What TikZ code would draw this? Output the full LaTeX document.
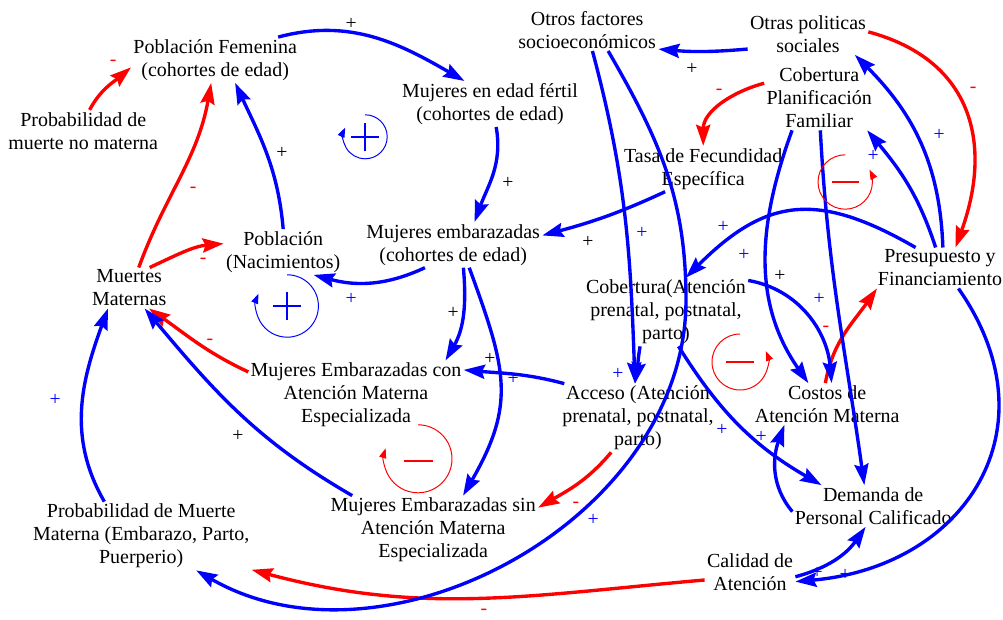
\documentclass[tikz,border=0pt]{standalone}
\usepackage{fontspec}
\setmainfont{Liberation Serif}
\usetikzlibrary{arrows.meta}
\newcommand\cldfont{\fontsize{14.2}{16.3}\selectfont}
\newcommand\signfont{\fontsize{14}{16}\selectfont}

\begin{document}
\begin{tikzpicture}[
  var/.style={align=center,inner sep=1.5pt,font=\cldfont},
  poslink/.style={blue,line width=2.4pt,-{Stealth[length=15pt,width=10pt,inset=2pt]}},
  neglink/.style={red,line width=2.4pt,-{Stealth[length=15pt,width=10pt,inset=2pt]}},
  signk/.style={font=\signfont,text=black,inner sep=0pt},
  signb/.style={font=\signfont,text=blue,inner sep=0pt},
  signr/.style={font=\signfont,text=red,inner sep=0pt},
  loopb/.style={blue,line width=0.7pt,-{Triangle[length=7pt,width=5pt]}},
  loopr/.style={red,line width=0.7pt,-{Triangle[length=7pt,width=5pt]}}]
\useasboundingbox (0,0) rectangle (25.075,15.5);

% variables
\node[var] (pf) at (5.38,14.0) {Población Femenina\\(cohortes de edad)};
\node[var] (pm) at (2.08,12.23) {Probabilidad de\\muerte no materna};
\node[var] (mef) at (12.25,12.9) {Mujeres en edad fértil\\(cohortes de edad)};
\node[var] (ofs) at (14.68,14.75) {Otros factores\\socioeconómicos};
\node[var] (ops) at (20.2,14.65) {Otras politicas\\sociales};
\node[var] (cpf) at (20.48,13.05) {Cobertura\\Planificación\\Familiar};
\node[var] (tfe) at (17.58,11.28) {Tasa de Fecundidad\\Específica};
\node[var] (pn) at (7.08,9.2) {Población\\(Nacimientos)};
\node[var] (mm) at (3.23,8.3) {Muertes\\Maternas};
\node[var] (me) at (11.33,9.38) {Mujeres embarazadas\\(cohortes de edad)};
\node[var] (pres) at (23.5,8.8) {Presupuesto y\\Financiamiento};
\node[var] (cob) at (16.65,7.7) {Cobertura(Atención\\prenatal, postnatal,\\parto)};
\node[var] (mec) at (8.9,5.63) {Mujeres Embarazadas con\\Atención Materna\\Especializada};
\node[var] (acc) at (15.95,5.05) {Acceso (Atención\\prenatal, postnatal,\\parto)};
\node[var] (cam) at (20.68,5.4) {Costos de\\Atención Materna};
\node[var] (mes) at (10.83,2.25) {Mujeres Embarazadas sin\\Atención Materna\\Especializada};
\node[var] (dpc) at (21.83,2.85) {Demanda de\\Personal Calificado};
\node[var] (pmm) at (3.53,2.1) {Probabilidad de Muerte\\Materna (Embarazo, Parto,\\Puerperio)};
\node[var] (cal) at (18.75,1.2) {Calidad de\\Atención};
\coordinate (ofsbend) at (17.15,8.0);

% links
\draw[poslink] (pf.20) to[out=15,in=150] (mef.138);
\draw[poslink] (mef.-75) to[out=-80,in=70] (me.47);
\draw[neglink] (pm.73) to[out=62,in=-140] (pf.185);
\draw[neglink] (mm.65) to[out=70,in=-100] (pf.-100);
\draw[poslink] (pn.90) to[out=95,in=-65] (pf.-49);
\draw[neglink] (mm.45) to[out=25,in=185] (pn.172);
\draw[poslink] (me.-141) to[out=-155,in=-15] (pn.-37);
\draw[poslink] (me.-66) to[out=-85,in=60] (mec.21);
\draw[poslink] (me.-55) to[out=-70,in=60,looseness=1.2] (mes.49);
\draw[poslink] (acc.155) to[out=165,in=-5] (mec.13);
\draw[neglink] (mec.168) to[out=155,in=-35] (mm.-46);
\draw[poslink] (mes.157) to[out=150,in=-50] (mm.-53);
\draw[poslink] (pmm.137) to[out=120,in=-110] (mm.-136);
\draw[neglink] (cal.190) to[out=-175,in=-15] (pmm.-17);
\draw[poslink] (ofs.-45) to[out=-60,in=90] (ofsbend) to[out=-90,in=-30] (pmm.-32);
\draw[poslink] (ops.194) to[out=-175,in=-5] (ofs.-15);
\draw[neglink] (ops.2) to[out=-15,in=70,looseness=1.2] (pres.53);
\draw[neglink] (cpf.165) to[out=-165,in=90] (tfe.90);
\draw[poslink] (pres.82) to[out=92,in=-45] (ops.-24);
\draw[poslink] (pres.102) to[out=108,in=-50] (cpf.-34);
\draw[poslink] (tfe.-149) to[out=-155,in=15] (me.6);
\draw[poslink] (cpf.-130) to[out=-110,in=125] (cam.132);
\draw[neglink] (cam.95) to[out=80,in=-125] (pres.-162);
\draw[poslink] (cob.-70) to[out=-58,in=150] (dpc.158);
\draw[poslink] (dpc.184) to[out=130,in=-110] (cam.-154);
\draw[poslink] (cal.-6) to[out=15,in=-125] (dpc.-110);
\draw[poslink] (pres.-48) to[out=-55,in=5,looseness=1.3] (cal.-12);
\draw[neglink] (acc.-128) to[out=-130,in=30] (mes.12);
\draw[poslink] (ofs.-76) to[out=-75,in=92] (acc.95);
\draw[poslink] (cob.-127) to[out=-100,in=80] (acc.95);
\draw[poslink] (pres.140) to[out=150,in=45,looseness=1.25] (cob.60);
\draw[poslink] (cob.21) to[out=-10,in=95] (cam.78);
\draw[poslink] (cpf.-88) to[out=-87,in=98] (dpc.113);

% polarity signs
\foreach \x/\y [count=\i] in {8.78/14.9, 12.7/10.93, 7.05/11.68, 11.33/7.68, 12.25/6.53,
    5.95/4.6, 17.3/13.78, 14.7/9.45, 19.5/8.6}
  \node[signk] (sk\i) at (\x,\y) {+};
\foreach \x/\y [count=\i] in {8.78/8.03, 12.83/6.03, 16.05/9.68, 15.45/6.14, 18.05/4.75,
    18.08/9.83, 18.6/9.13, 20.48/8.03, 19.03/4.58, 20.43/1.18, 21.13/1.13, 23.48/12.13,
    21.83/11.6, 1.38/5.5, 14.83/2.5}
  \node[signb] (sb\i) at (\x,\y) {+};
\foreach \x/\y [count=\i] in {2.83/13.93, 4.83/10.75, 5.08/8.98, 5.25/6.95, 12.1/0.2,
    14.4/2.88, 17.98/13.2, 24.33/13.25, 20.65/7.28}
  \node[signr] (sr\i) at (\x,\y) {-};

% loops
\draw[loopb] (9.13,12.63) arc[start angle=90,end angle=-205,radius=0.55];
\draw[blue,line width=1.2pt] (8.78,12.08) -- (9.48,12.08) (9.13,11.73) -- (9.13,12.43);
\draw[loopb] (7.18,8.63) arc[start angle=90,end angle=-203,radius=0.78];
\draw[blue,line width=1.2pt] (6.83,7.85) -- (7.53,7.85) (7.18,7.5) -- (7.18,8.2);
\draw[loopr] (21.13,11.63) arc[start angle=90,end angle=387,radius=0.68];
\draw[red,line width=1.4pt] (20.79,10.95) -- (21.47,10.95);
\draw[loopr] (18.5,7.15) arc[start angle=90,end angle=383,radius=0.7];
\draw[red,line width=1.4pt] (18.15,6.45) -- (18.85,6.45);
\draw[loopr] (10.45,4.88) arc[start angle=90,end angle=-198,radius=0.85];
\draw[red,line width=1.4pt] (10.1,3.98) -- (10.82,3.98);
\end{tikzpicture}
\end{document}
